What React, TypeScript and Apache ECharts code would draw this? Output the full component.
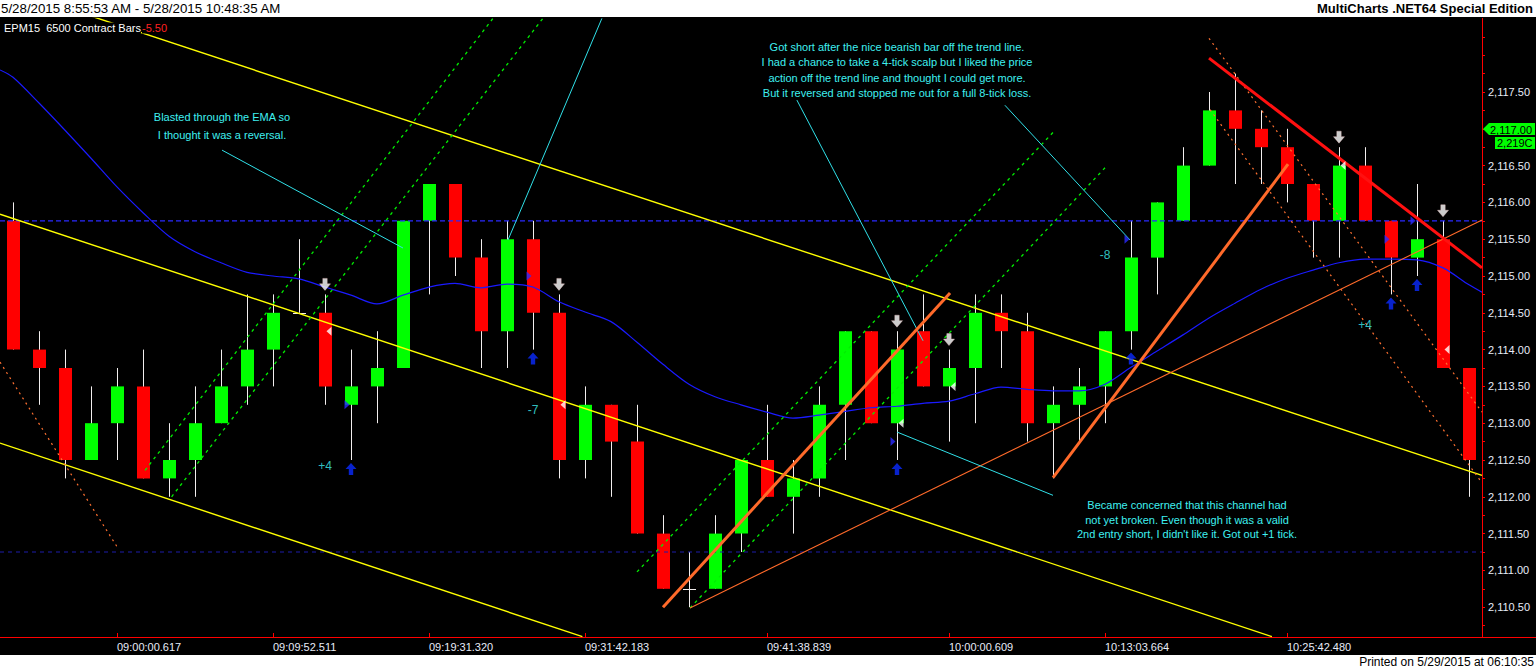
import React, { useEffect, useRef } from 'react';
import * as echarts from 'echarts';

// ---------- DATA ----------
const opens = [2115.75, 2114.0, 2113.75, 2112.5, 2113.0, 2113.5, 2112.25, 2112.5, 2113.0, 2113.5, 2114.0, 2114.5, 2114.5, 2113.25, 2113.5, 2113.75, 2115.75, 2116.25, 2115.25, 2114.25, 2115.5, 2114.5, 2112.5, 2113.25, 2112.75, 2111.5, 2110.75, 2110.75, 2111.5, 2112.5, 2112.0, 2112.25, 2113.25, 2114.25, 2113.0, 2114.25, 2113.5, 2113.75, 2114.5, 2114.25, 2113.0, 2113.25, 2113.5, 2114.25, 2115.25, 2115.75, 2116.5, 2117.25, 2117.0, 2116.75, 2116.25, 2115.75, 2116.5, 2115.75, 2115.25, 2115.5, 2113.75];
const highs = [2116.0, 2114.25, 2114.0, 2113.5, 2113.75, 2114.0, 2113.0, 2113.5, 2114.0, 2114.75, 2114.75, 2115.5, 2114.75, 2114.0, 2114.25, 2115.75, 2116.25, 2116.25, 2115.5, 2115.75, 2115.75, 2114.75, 2113.5, 2113.25, 2113.25, 2111.75, 2111.25, 2111.75, 2112.5, 2113.25, 2112.5, 2113.5, 2114.25, 2114.25, 2114.25, 2114.75, 2114.0, 2114.75, 2114.75, 2114.5, 2113.5, 2113.75, 2114.25, 2115.75, 2116.0, 2116.75, 2117.5, 2117.75, 2117.25, 2117.0, 2116.25, 2116.75, 2116.75, 2115.75, 2116.25, 2115.75, 2113.75];
const lows = [2114.0, 2113.25, 2112.25, 2112.5, 2112.5, 2112.25, 2112.0, 2112.0, 2113.0, 2113.25, 2113.5, 2114.5, 2113.25, 2112.5, 2113.0, 2113.75, 2114.75, 2115.0, 2113.75, 2113.75, 2114.0, 2112.25, 2112.25, 2112.0, 2111.5, 2110.75, 2110.5, 2110.75, 2111.25, 2112.0, 2111.5, 2112.0, 2112.5, 2113.0, 2112.5, 2113.5, 2112.75, 2113.0, 2113.75, 2112.75, 2112.25, 2112.75, 2113.0, 2114.0, 2114.75, 2115.75, 2116.5, 2116.25, 2116.25, 2116.0, 2115.25, 2115.25, 2115.75, 2114.75, 2115.0, 2113.75, 2112.0];
const closes = [2114.0, 2113.75, 2112.5, 2113.0, 2113.5, 2112.25, 2112.5, 2113.0, 2113.5, 2114.0, 2114.5, 2114.5, 2113.5, 2113.5, 2113.75, 2115.75, 2116.25, 2115.25, 2114.25, 2115.5, 2114.5, 2112.5, 2113.25, 2112.75, 2111.5, 2110.75, 2110.75, 2111.5, 2112.5, 2112.0, 2112.25, 2113.25, 2114.25, 2113.0, 2114.0, 2113.5, 2113.75, 2114.5, 2114.25, 2113.0, 2113.25, 2113.5, 2114.25, 2115.25, 2116.0, 2116.5, 2117.25, 2117.0, 2116.75, 2116.25, 2115.75, 2116.5, 2115.75, 2115.25, 2115.5, 2113.75, 2112.5];

const emaValues = [2117.70, 2117.35, 2116.98, 2116.60, 2116.21, 2115.86, 2115.54, 2115.33, 2115.18, 2115.05, 2115.00, 2114.96, 2114.85, 2114.74, 2114.62, 2114.74, 2114.85, 2114.90, 2114.84, 2114.89, 2114.85, 2114.65, 2114.51, 2114.38, 2114.10, 2113.80, 2113.53, 2113.36, 2113.25, 2113.15, 2113.07, 2113.11, 2113.16, 2113.21, 2113.23, 2113.27, 2113.30, 2113.40, 2113.49, 2113.46, 2113.44, 2113.44, 2113.53, 2113.76, 2113.98, 2114.20, 2114.43, 2114.63, 2114.82, 2114.97, 2115.08, 2115.18, 2115.23, 2115.23, 2115.22, 2115.11, 2114.88];
const emaLeftEdge = 2117.80;
const emaRightEdge = 2114.78;

const tickBarIndex = [4, 10, 16, 22, 29, 36, 42, 49];
const tickLabels = ['09:00:00.617', '09:09:52.511', '09:19:31.320', '09:31:42.183', '09:41:38.839', '10:00:00.609', '10:13:03.664', '10:25:42.480'];

const priceMin = 2110.0;
const priceMax = 2118.5;
const priceStep = 0.25;
const labelLow = 2110.5;
const labelHigh = 2117.5;
const lastPriceTag = '2,117.00';
const volumeTag = '2,219C';

// trend lines: [[barIndex, price], [barIndex, price]]
const yellowLines = [
  [[-0.5, 2115.84], [48.42, 2110.1]],
  [[-0.5, 2118.94], [56.5, 2112.29]],
  [[-0.5, 2112.73], [21.9, 2110.1]],
];
const greenDashedLines = [
  [[5.08, 2112.36], [18.46, 2118.5]],
  [[6.1, 2112.0], [20.38, 2118.5]],
  [[24.0, 2110.98], [40.08, 2116.98]],
  [[26.04, 2110.49], [42.0, 2116.47]],
];
const orangeDottedLines = [
  [[-0.5, 2113.83], [4.04, 2111.3]],
  [[46.0, 2118.23], [56.5, 2113.15]],
  [[46.04, 2117.26], [56.5, 2112.19]],
];
const orangeThinLines = [[[26.04, 2110.49], [56.5, 2115.76]]];
const orangeThickLines = [
  [[25.0, 2110.5], [36.04, 2114.77]],
  [[40.0, 2112.26], [49.04, 2116.52]],
];
const redThickLines = [[[46.0, 2117.96], [56.5, 2115.11]]];
const cyanLines = [
  [[8.04, 2116.71], [15.0, 2115.38]],
  [[19.04, 2115.49], [22.65, 2118.5]],
  [[30.15, 2117.39], [35.0, 2114.12]],
  [[38.15, 2117.32], [42.96, 2115.49]],
  [[34.0, 2112.88], [40.0, 2112.02]],
];
const blueDashedLevels = [2115.75];
const dimDashedLevels = [2111.25];

// trade markers
const downArrowBars = [12, 21, 34, 36, 51, 55];
const upArrowBars = [13, 20, 34, 43, 53, 54];
const entryMarks = [[13, 2113.25], [20, 2115.0], [34, 2112.75], [43, 2115.5], [53, 2115.5], [54, 2115.75]];
const exitMarks = [[12, 2114.25], [21, 2113.25], [34, 2113.0], [36, 2113.5], [51, 2116.5], [55, 2114.0]];
const pnlLabels = [
  { name: '+4', value: [12, 2112.42] },
  { name: '-7', value: [20, 2113.18] },
  { name: '-8', value: [42, 2115.29] },
  { name: '+4', value: [52, 2114.33] },
];

const headerLeft = '5/28/2015 8:55:53 AM - 5/28/2015 10:48:35 AM';
const headerRight = 'MultiCharts .NET64 Special Edition';
const footerText = 'Printed on 5/29/2015 at 06:10:35';
const symbolText = 'EPM15  6500 Contract Bars';
const symbolChange = '-5.50';
const noteEma = ['Blasted through the EMA so', 'I thought it was a reversal.'];
const noteShort = [
  'Got short after the nice bearish bar off the trend line.',
  'I had a chance to take a 4-tick scalp but I liked the price',
  'action off the trend line and thought I could get more.',
  'But it reversed and stopped me out for a full 8-tick loss.',
];
const noteChannel = [
  'Became concerned that this channel had',
  'not yet broken. Even though it was a valid',
  "2nd entry short, I didn't like it. Got out +1 tick.",
];

// ---------- CHART ----------
const FONT = '"Liberation Sans", Arial, sans-serif';
const CYAN = '#3ff0f0';

function fmtPrice(v: number) {
  return v.toLocaleString('en-US', { minimumFractionDigits: 2, maximumFractionDigits: 2 });
}

function segSeries(segs: number[][][], color: string, width: number, type: any, z: number) {
  return segs.map((seg) => ({
    type: 'line',
    xAxisIndex: 1,
    yAxisIndex: 0,
    data: seg,
    symbol: 'none',
    silent: true,
    z,
    clip: true,
    lineStyle: { color, width, type, cap: 'butt' },
  }));
}

function buildOption(): any {
  const candleData = opens.map((o, i) => [i, o, highs[i], lows[i], closes[i]]);
  const categories = opens.map((_, i) => String(i));
  const showTick = (index: number) => tickBarIndex.indexOf(index) >= 0;

  const emaData = [[-0.5, emaLeftEdge], ...emaValues.map((v, i) => [i, v]), [56.5, emaRightEdge]];

  const levelSegs = (levels: number[]) => levels.map((p) => [[-0.5, p], [56.5, p]]);

  const textEl = (text: string, x: number, y: number, fill: string, font: string, align = 'left', z = 60, bg?: string) => ({
    type: 'text',
    x,
    y,
    z,
    silent: true,
    style: { text, fill, font, align, verticalAlign: 'middle', backgroundColor: bg },
  });

  const noteFont = `11px ${FONT}`;

  return {
    animation: false,
    backgroundColor: '#000000',
    grid: { left: 0, right: 54, top: 18.4, height: 625.6, containLabel: false },
    xAxis: [
      {
        type: 'category',
        data: categories,
        boundaryGap: true,
        position: 'bottom',
        offset: -7,
        axisLine: { show: true, onZero: false, lineStyle: { color: '#ff0000', width: 1 } },
        axisTick: { show: true, inside: true, length: 4, alignWithLabel: true, interval: (i: number) => showTick(i), lineStyle: { color: '#ff0000' } },
        axisLabel: {
          show: true,
          interval: (i: number) => showTick(i),
          formatter: (_v: string, i: number) => {
            const k = tickBarIndex.indexOf(i);
            return k >= 0 ? tickLabels[k] : '';
          },
          color: '#e8ecf8',
          fontSize: 11,
          fontFamily: FONT,
          align: 'left',
          margin: 4,
        },
        splitLine: { show: false },
      },
      {
        type: 'value',
        min: -0.5,
        max: 56.5,
        show: false,
        axisLine: { onZero: false },
      },
    ],
    yAxis: [
      {
        type: 'value',
        position: 'right',
        min: priceMin,
        max: priceMax,
        interval: priceStep,
        scale: true,
        axisLine: { show: true, onZero: false, lineStyle: { color: '#ff0000', width: 1 } },
        axisTick: { show: true, length: 3, lineStyle: { color: '#ff0000' } },
        axisLabel: {
          show: true,
          margin: 6,
          color: '#e8ecf8',
          fontSize: 11,
          fontFamily: FONT,
          showMinLabel: false,
          showMaxLabel: false,
          formatter: (v: number) => {
            const half = Math.round(v * 100) % 50 === 0;
            if (!half || v < labelLow - 1e-6 || v > labelHigh + 1e-6) return '';
            const s = fmtPrice(v);
            return s === lastPriceTag ? '' : s;
          },
        },
        splitLine: { show: false },
      },
    ],
    series: [
      {
        type: 'custom',
        xAxisIndex: 1,
        yAxisIndex: 0,
        data: candleData,
        encode: { x: 0, y: [1, 2, 3, 4] },
        z: 1,
        silent: true,
        renderItem: (_params: any, api: any) => {
          const x = api.value(0);
          const o = api.value(1);
          const h = api.value(2);
          const l = api.value(3);
          const c = api.value(4);
          const pO = api.coord([x, o]);
          const pC = api.coord([x, c]);
          const pH = api.coord([x, h]);
          const pL = api.coord([x, l]);
          const cx = Math.round(pO[0]);
          const w = 13;
          const wick = '#f2eeee';
          const children: any[] = [
            { type: 'line', shape: { x1: cx + 0.5, y1: pH[1], x2: cx + 0.5, y2: pL[1] }, style: { stroke: wick, lineWidth: 1 } },
          ];
          if (o === c) {
            children.push({ type: 'line', shape: { x1: cx - 6, y1: Math.round(pO[1]) + 0.5, x2: cx + 7, y2: Math.round(pO[1]) + 0.5 }, style: { stroke: wick, lineWidth: 1 } });
          } else {
            const top = Math.min(pO[1], pC[1]);
            children.push({
              type: 'rect',
              shape: { x: cx - 6, y: top, width: w, height: Math.abs(pO[1] - pC[1]) },
              style: { fill: c > o ? '#00ff00' : '#ff0000' },
            });
          }
          return { type: 'group', children };
        },
      },
      {
        type: 'line',
        xAxisIndex: 1,
        yAxisIndex: 0,
        data: emaData,
        symbol: 'none',
        smooth: 0.3,
        silent: true,
        z: 3,
        lineStyle: { color: '#1a1aff', width: 1.2 },
      },
      ...segSeries(levelSegs(blueDashedLevels), '#2a2aff', 1.3, [5, 3], 3),
      ...segSeries(levelSegs(dimDashedLevels), '#1c1ca8', 1, [4, 4], 3),
      ...segSeries(yellowLines, '#ffff00', 1.4, 'solid', 4),
      ...segSeries(greenDashedLines, '#00ee00', 1.3, [3, 4], 4),
      ...segSeries(orangeDottedLines, '#ff7030', 1.2, [2, 4], 4),
      ...segSeries(orangeThinLines, '#ff6a2a', 1.1, 'solid', 4),
      ...segSeries(cyanLines, '#30e0e8', 1, 'solid', 4),
      ...segSeries(orangeThickLines, '#ff6a2a', 3, 'solid', 5),
      ...segSeries(redThickLines, '#ff1010', 3, 'solid', 5),
      {
        type: 'scatter',
        xAxisIndex: 1,
        yAxisIndex: 0,
        silent: true,
        z: 6,
        symbol: 'path://M3,0H7V5H10L5,11L0,5H3Z',
        symbolSize: [11, 12],
        symbolOffset: [0, -10],
        itemStyle: { color: '#ffffff', borderColor: '#f0c8c8', borderWidth: 0.5 },
        data: downArrowBars.map((i) => [i, highs[i]]),
      },
      {
        type: 'scatter',
        xAxisIndex: 1,
        yAxisIndex: 0,
        silent: true,
        z: 6,
        symbol: 'path://M5,0L10,6H7V12H3V6H0Z',
        symbolSize: [11, 12],
        symbolOffset: [0, 9],
        itemStyle: { color: '#0a2aff' },
        data: upArrowBars.map((i) => [i, lows[i]]),
      },
      {
        type: 'scatter',
        xAxisIndex: 1,
        yAxisIndex: 0,
        silent: true,
        z: 6,
        symbol: 'path://M0,0L6,5L0,10Z',
        symbolSize: [5, 9],
        symbolOffset: [-4, 0],
        itemStyle: { color: '#2a2aff' },
        data: entryMarks,
      },
      {
        type: 'scatter',
        xAxisIndex: 1,
        yAxisIndex: 0,
        silent: true,
        z: 6,
        symbol: 'path://M6,0L0,5L6,10Z',
        symbolSize: [5, 9],
        symbolOffset: [4, 0],
        itemStyle: { color: '#ffffff' },
        data: exitMarks,
      },
      {
        type: 'scatter',
        xAxisIndex: 1,
        yAxisIndex: 0,
        silent: true,
        z: 6,
        symbol: 'circle',
        symbolSize: 1,
        itemStyle: { color: 'rgba(0,0,0,0)' },
        label: { show: true, position: 'inside', formatter: '{b}', color: CYAN, fontSize: 12, fontFamily: FONT },
        data: pnlLabels,
      },
    ],
    graphic: [
      { type: 'rect', z: 100, silent: true, shape: { x: 0, y: 0, width: 1536, height: 17 }, style: { fill: '#ffffff' } },
      textEl(headerLeft, 1, 8, '#000000', `13.3px ${FONT}`, 'left', 101),
      textEl(headerRight, 1533, 8, '#000000', `bold 13px ${FONT}`, 'right', 101),
      { type: 'rect', z: 100, silent: true, shape: { x: 0, y: 655, width: 1536, height: 15 }, style: { fill: '#ffffff' } },
      textEl(footerText, 1534, 662, '#000000', `12px ${FONT}`, 'right', 101),
      { type: 'rect', z: 90, silent: true, shape: { x: 1478, y: 638, width: 8, height: 8 }, style: { fill: '#000000' } },
      { type: 'line', z: 91, silent: true, shape: { x1: 1482, y1: 637.5, x2: 1536, y2: 637.5 }, style: { stroke: '#ff0000', lineWidth: 1 } },
      textEl(symbolText, 4, 28, '#ffffff', `11px ${FONT}`, 'left', 60, '#000000'),
      textEl(symbolChange, 142, 28, '#ff2020', `11px ${FONT}`, 'left', 60, '#000000'),
      textEl(noteEma[0], 222, 117, CYAN, noteFont, 'center'),
      textEl(noteEma[1], 222, 135, CYAN, noteFont, 'center'),
      ...noteShort.map((t, k) => textEl(t, 897, 47 + k * 15.3, CYAN, noteFont, 'center')),
      ...noteChannel.map((t, k) => textEl(t, 1187, 505 + k * 14.5, CYAN, noteFont, 'center')),
      {
        type: 'polygon',
        z: 80,
        silent: true,
        shape: { points: [[1483, 129], [1489, 123], [1535, 123], [1535, 135], [1489, 135]] },
        style: { fill: '#00ff00' },
      },
      textEl(lastPriceTag, 1490, 129.5, '#000000', `11px ${FONT}`, 'left', 81),
      { type: 'rect', z: 80, silent: true, shape: { x: 1495, y: 137, width: 40, height: 12 }, style: { fill: '#00ff00' } },
      textEl(volumeTag, 1497, 143, '#000000', `11px ${FONT}`, 'left', 81),
    ],
  };
}

export default function App() {
  const ref = useRef<HTMLDivElement>(null);
  useEffect(() => {
    document.body.style.margin = '0';
    const chart = echarts.init(ref.current as HTMLDivElement, null, { renderer: 'svg' });
    chart.setOption(buildOption());
    return () => chart.dispose();
  }, []);
  return <div ref={ref} style={{ width: 1536, height: 670 }} />;
}
